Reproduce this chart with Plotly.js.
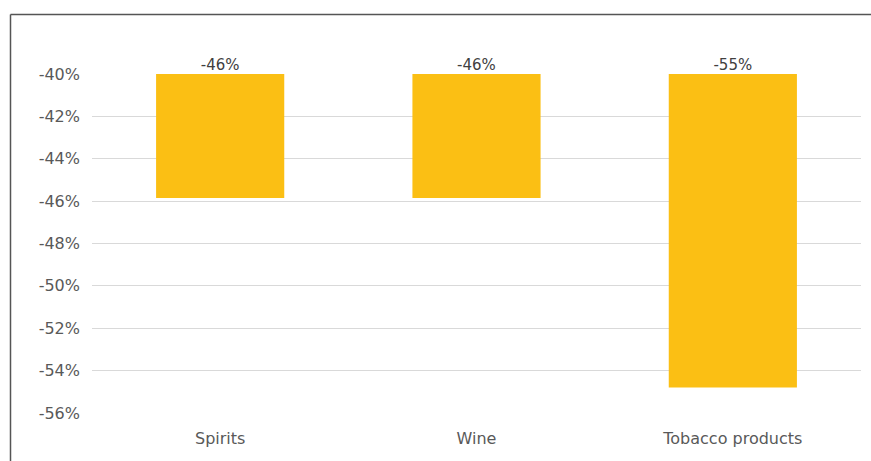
<!DOCTYPE html>
<html>
<head>
<meta charset="utf-8">
<script src="https://cdn.plot.ly/plotly-3.0.1.min.js"></script>
<style>html,body{margin:0;padding:0;background:#fff;}#chart{width:871px;height:461px;}</style>
</head>
<body>
<div id="chart"></div>
<script>
const categories = ["Spirits", "Wine", "Tobacco products"];
const values = [-45.85, -45.85, -54.8];
const baseValue = -40;
const labels = ["-46%", "-46%", "-55%"];
const tickVals = [-56, -54, -52, -50, -48, -46, -44, -42, -40];
const tickText = ["-56%", "-54%", "-52%", "-50%", "-48%", "-46%", "-44%", "-42%", "-40%"];

const font = "'DejaVu Sans', 'Noto Sans', sans-serif";
const bars = {
  type: "bar",
  x: categories,
  y: values.map(v => v - baseValue),
  base: values.map(() => baseValue),
  marker: {color: "#FBBF14"},
  hoverinfo: "skip"
};
const txt = {
  type: "scatter",
  mode: "text",
  x: categories,
  y: values.map(() => baseValue),
  text: labels,
  textposition: "top center",
  textfont: {family: font, size: 15, color: "#404040"},
  cliponaxis: false,
  hoverinfo: "skip"
};
const pl = 92, pr = 861, pt = 74, pb = 413;
const px = v => (v - pl) / (pr - pl);
const py = v => (pb - v) / (pb - pt);
const layout = {
  width: 871, height: 461,
  margin: {l: pl, r: 871 - pr, t: pt, b: 461 - pb, pad: 0},
  paper_bgcolor: "#fff", plot_bgcolor: "#fff",
  showlegend: false,
  bargap: 0.5,
  font: {family: font, size: 15, color: "#595959"},
  xaxis: {showgrid: false, zeroline: false, showline: false, ticks: "", ticklabelstandoff: 14, tickfont: {size: 16, color: "#595959"}, fixedrange: true},
  yaxis: {range: [-56, -40], tickvals: tickVals, ticktext: tickText, showgrid: true, gridcolor: "#d9d9d9", gridwidth: 1, zeroline: false, showline: false, ticks: "", ticklabelstandoff: 11, tickfont: {size: 16, color: "#595959"}, fixedrange: true},
  shapes: [
    {type: "line", xref: "paper", yref: "paper", x0: px(10.5), x1: px(871), y0: py(14.5), y1: py(14.5), line: {color: "#555", width: 1.5}},
    {type: "line", xref: "paper", yref: "paper", x0: px(10.5), x1: px(10.5), y0: py(14.5), y1: py(470), line: {color: "#555", width: 1.5}}
  ]
};
Plotly.newPlot("chart", [bars, txt], layout, {displayModeBar: false, staticPlot: true});
</script>
</body>
</html>
